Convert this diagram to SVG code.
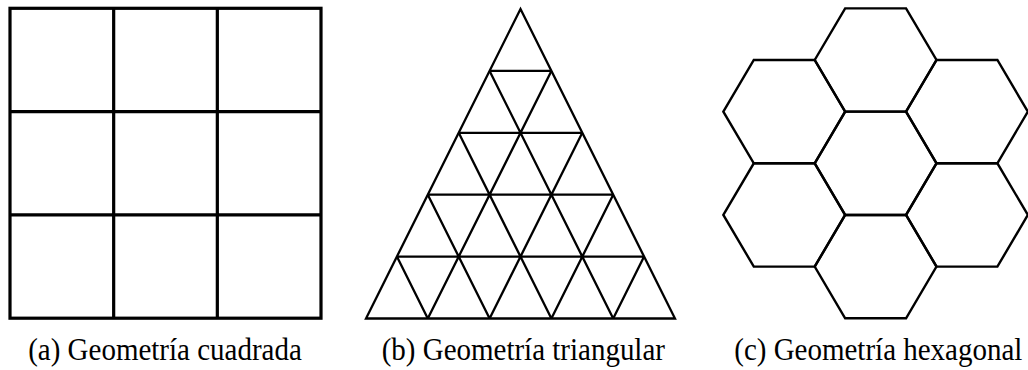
<svg xmlns="http://www.w3.org/2000/svg" xmlns:xlink="http://www.w3.org/1999/xlink" width="1028" height="370" viewBox="0 0 1028 370">
<style>
.sq{fill:none;stroke:#000;stroke-width:3.2}
.tri{fill:none;stroke:#000;stroke-width:2.3;stroke-linejoin:miter}
.hex{fill:none;stroke:#000;stroke-width:2.4;stroke-linejoin:miter}
.cap{font-family:'Liberation Serif','Times New Roman',serif;font-size:29px;fill:#000;text-anchor:middle}
</style>
<defs>
<polygon id="h" class="hex" points="-60.9,0 -30.45,-51.65 30.45,-51.65 60.9,0 30.45,51.65 -30.45,51.65"/>
</defs>
<rect width="1028" height="370" fill="#fff"/>
<g id="square-grid">
<rect class="sq" x="10" y="8.3" width="311" height="309.9"/>
<path class="sq" d="M113.67,8.3V318.2M217.33,8.3V318.2M10,111.6H321M10,214.9H321"/>
</g>
<g id="triangular-grid">
<polygon class="tri" points="520.5,9 675,318.5 366,318.5"/>
<path class="tri" d="M489.6,70.9H551.4M458.7,132.8H582.3M427.8,194.7H613.2M396.9,256.6H644.1
M427.8,318.5L551.4,70.9M489.6,318.5L582.3,132.8M551.4,318.5L613.2,194.7M613.2,318.5L644.1,256.6
M427.8,318.5L396.9,256.6M489.6,318.5L427.8,194.7M551.4,318.5L458.7,132.8M613.2,318.5L489.6,70.9"/>
</g>
<g id="hexagonal-grid">
<use id="hex-top" xlink:href="#h" x="875.6" y="60"/>
<use id="hex-upper-left" xlink:href="#h" x="784.25" y="111.65"/>
<use id="hex-upper-right" xlink:href="#h" x="966.95" y="111.65"/>
<use id="hex-center" xlink:href="#h" x="875.6" y="163.3"/>
<use id="hex-lower-left" xlink:href="#h" x="784.25" y="214.95"/>
<use id="hex-lower-right" xlink:href="#h" x="966.95" y="214.95"/>
<use id="hex-bottom" xlink:href="#h" x="875.6" y="266.6"/>
</g>
<g id="captions">
<text class="cap" transform="translate(165 359.5) scale(1 1.1)">(a) Geometría cuadrada</text>
<text class="cap" transform="translate(523.3 359.5) scale(1 1.1)">(b) Geometría triangular</text>
<text class="cap" transform="translate(878.3 359.5) scale(1 1.1)">(c) Geometría hexagonal</text>
</g>
</svg>
